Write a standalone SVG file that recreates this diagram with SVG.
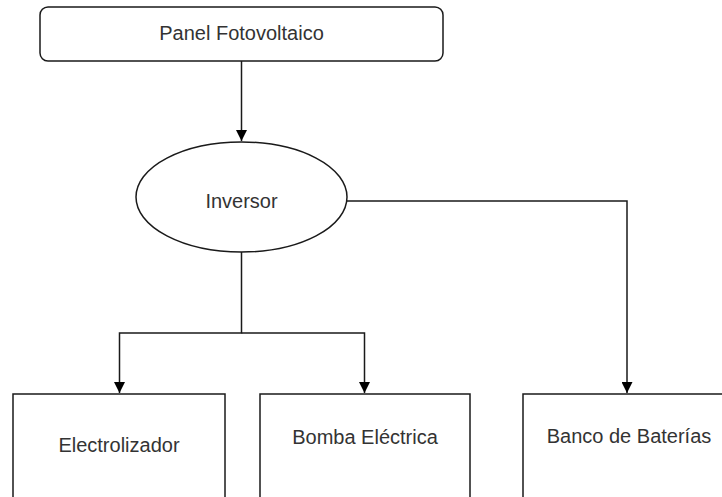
<svg xmlns="http://www.w3.org/2000/svg" width="722" height="497" viewBox="0 0 722 497">
<defs>
<style>
.shape{fill:#fff;stroke:#1a1a1a;stroke-width:1.5}
.edge{fill:none;stroke:#1a1a1a;stroke-width:1.5}
.lbl{font-family:"Liberation Sans",Arial,sans-serif;font-size:20px;fill:#333;text-anchor:middle}
</style>
<marker id="arr" viewBox="0 0 10 10" refX="10" refY="5" markerWidth="11" markerHeight="11" markerUnits="userSpaceOnUse" orient="auto">
<path d="M0,0 L10,5 L0,10 z" fill="#000"/>
</marker>
</defs>
<rect width="722" height="497" fill="#fff"/>
<g id="connectors">
<path class="edge" d="M241.5,61 L241.5,141" marker-end="url(#arr)"/>
<path class="edge" d="M347,201 L627,201 L627,393" marker-end="url(#arr)"/>
<path class="edge" d="M241.5,252 L241.5,333 L119.5,333 L119.5,393" marker-end="url(#arr)"/>
<path class="edge" d="M241.5,333 L364.5,333 L364.5,393" marker-end="url(#arr)"/>
</g>
<g id="panel">
<rect class="shape" x="40" y="7" width="403" height="54" rx="8" ry="8"/>
<text class="lbl" x="241.5" y="40">Panel Fotovoltaico</text>
</g>
<g id="inversor">
<ellipse class="shape" cx="241.5" cy="197" rx="105.5" ry="55"/>
<text class="lbl" x="241.5" y="208">Inversor</text>
</g>
<g id="electrolizador">
<rect class="shape" x="13" y="394" width="212" height="120"/>
<text class="lbl" x="119" y="452">Electrolizador</text>
</g>
<g id="bomba">
<rect class="shape" x="260" y="394" width="210" height="120"/>
<text class="lbl" x="365" y="444">Bomba Eléctrica</text>
</g>
<g id="banco">
<rect class="shape" x="523" y="394" width="210" height="120"/>
<text class="lbl" x="629" y="443">Banco de Baterías</text>
</g>
</svg>
